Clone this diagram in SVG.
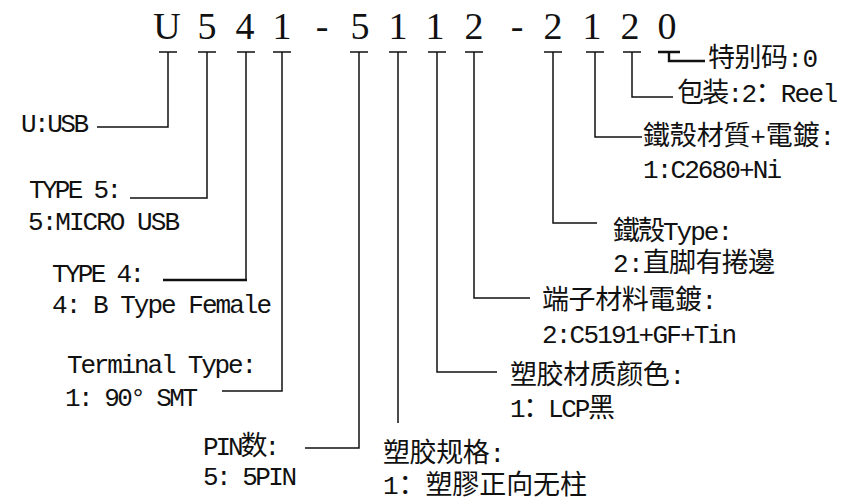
<svg xmlns="http://www.w3.org/2000/svg" width="845" height="502" viewBox="0 0 845 502">
<style>
.bg{fill:#ffffff}
.code{font-family:"Liberation Serif","Noto Sans CJK SC",serif;font-size:38px;fill:#111;text-anchor:middle}
.t{font-family:"Liberation Mono","Noto Sans CJK SC",monospace;font-size:26px;fill:#111}
.k{font-size:27px}
.ln{fill:none;stroke:#111;stroke-width:1.5}
.thick{stroke-width:2.4}
</style>
<rect class="bg" x="0" y="0" width="845" height="502"/>
<g id="code">
<text class="code" x="167 207 245 282 322 360 398 435 474 517 553 592 630 667" y="39">U541-5112-2120</text>
</g>
<g id="connectors">
<path class="ln" d="M159,52H177 M168,52V127H97"/>
<path class="ln" d="M198,52H216 M207,52V198H130"/>
<path class="ln" d="M237,52H255 M246,52V280"/>
<path class="ln thick" d="M247,280H163"/>
<path class="ln" d="M273,52H291 M282,52V391H222"/>
<path class="ln" d="M350,52H368 M359,52V448H305"/>
<path class="ln" d="M389,52H407 M398,52V423"/>
<path class="ln" d="M428,52H446 M437,52V372H497"/>
<path class="ln" d="M465,52H483 M474,52V298H530"/>
<path class="ln" d="M544,52H562 M553,52V223H597"/>
<path class="ln" d="M586,52H604 M595,52V137H642"/>
<path class="ln" d="M623,52H641 M632,52V97H673"/>
<path class="ln thick" d="M658,52H680 M669,52V61H705"/>
</g>
<g id="n-U"><text class="t" x="21" y="132" textLength="68" lengthAdjust="spacing">U:USB</text></g>
<g id="n-type5">
<text class="t" x="29" y="198" textLength="93" lengthAdjust="spacing">TYPE 5:</text>
<text class="t" x="28" y="230" textLength="152" lengthAdjust="spacing">5:MICRO USB</text>
</g>
<g id="n-type4">
<text class="t" x="52" y="282" textLength="93" lengthAdjust="spacing">TYPE 4:</text>
<text class="t" x="52" y="313" textLength="220" lengthAdjust="spacing">4: B Type Female</text>
</g>
<g id="n-terminal">
<text class="t" x="67" y="373" textLength="190" lengthAdjust="spacing">Terminal Type:</text>
<text class="t" x="65" y="406" textLength="133" lengthAdjust="spacing">1: 90° SMT</text>
</g>
<g id="n-pin">
<text class="t" x="203" y="455" textLength="77" lengthAdjust="spacing">PIN<tspan class="k">数</tspan>:</text>
<text class="t" x="203" y="485" textLength="94" lengthAdjust="spacing">5: 5PIN</text>
</g>
<g id="n-plastic-spec">
<text class="t" x="383" y="462" textLength="122" lengthAdjust="spacing"><tspan class="k">塑胶规格</tspan>:</text>
<text class="t" x="383" y="494" textLength="204" lengthAdjust="spacing">1<tspan class="k">：塑膠正向无柱</tspan></text>
</g>
<g id="n-plastic-color">
<text class="t" x="510" y="384" textLength="175" lengthAdjust="spacing"><tspan class="k">塑胶材质颜色</tspan>:</text>
<text class="t" x="510" y="417" textLength="105" lengthAdjust="spacing">1<tspan class="k">：</tspan>LCP<tspan class="k">黑</tspan></text>
</g>
<g id="n-terminal-plating">
<text class="t" x="542" y="309" textLength="175" lengthAdjust="spacing"><tspan class="k">端子材料電鍍</tspan>:</text>
<text class="t" x="542" y="343" textLength="195" lengthAdjust="spacing">2:C5191+GF+Tin</text>
</g>
<g id="n-shell-type">
<text class="t" x="613" y="240" textLength="120" lengthAdjust="spacing"><tspan class="k">鐵殼</tspan>Type:</text>
<text class="t" x="613" y="272" textLength="162" lengthAdjust="spacing">2:<tspan class="k">直脚有捲邊</tspan></text>
</g>
<g id="n-shell-material">
<text class="t" x="643" y="145" textLength="192" lengthAdjust="spacing"><tspan class="k">鐵殼材質</tspan>+<tspan class="k">電鍍</tspan>:</text>
<text class="t" x="643" y="178" textLength="139" lengthAdjust="spacing">1:C2680+Ni</text>
</g>
<g id="n-package">
<text class="t" x="677" y="102" textLength="161" lengthAdjust="spacing"><tspan class="k">包装</tspan>:2<tspan class="k">：</tspan>Reel</text>
</g>
<g id="n-special">
<text class="t" x="708" y="67" textLength="110" lengthAdjust="spacing"><tspan class="k">特别码</tspan>:0</text>
</g>
</svg>
